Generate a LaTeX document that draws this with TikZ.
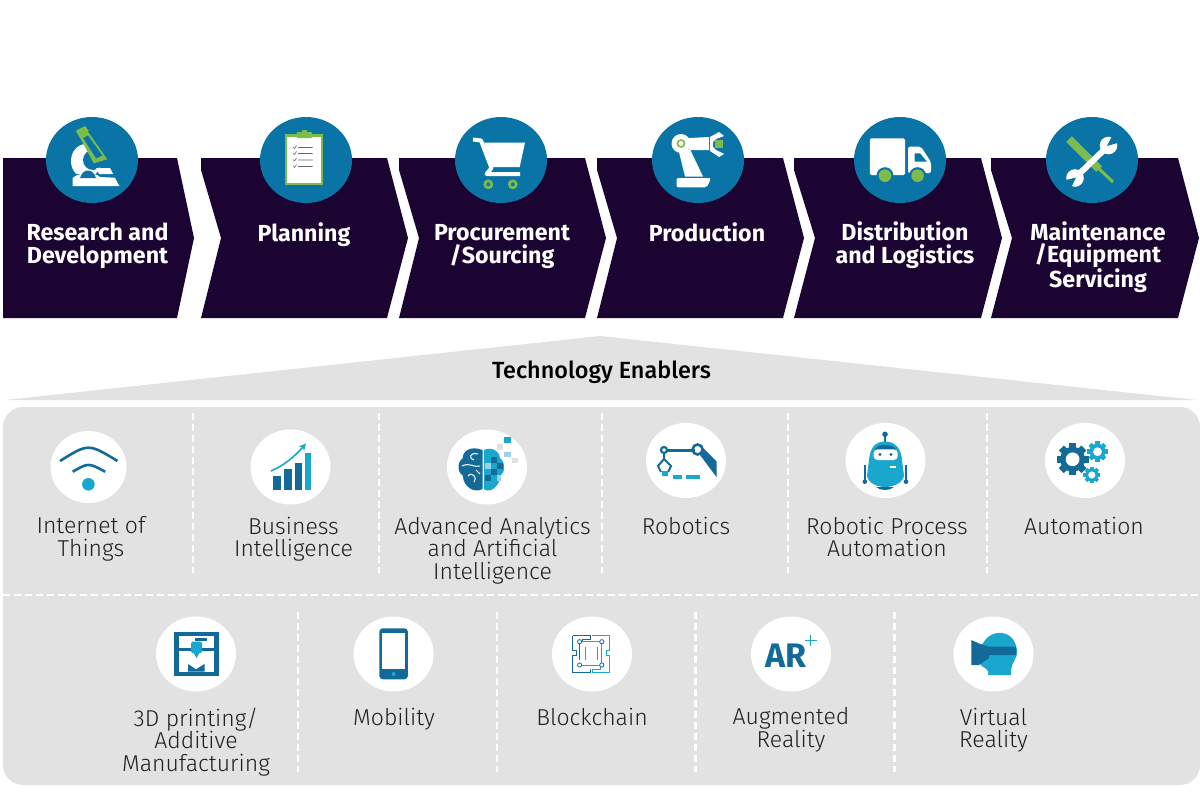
\documentclass[tikz,border=0pt]{standalone}
\usepackage{fontspec}
\setmainfont{Fira Sans}
\newfontfamily\lightfont{Fira Sans Light}
\newfontfamily\mediumfont{Fira Sans Medium}
\usepackage{tikz}
\usetikzlibrary{arrows.meta,positioning,calc,shapes.geometric}

\definecolor{stagefill}{HTML}{1C0432}
\definecolor{badgeblue}{HTML}{0A74A6}
\definecolor{leafgreen}{HTML}{7DBB4C}
\definecolor{panelgray}{HTML}{E2E2E2}
\definecolor{techdark}{HTML}{136A99}
\definecolor{techcyan}{HTML}{19A7CE}
\definecolor{techpale}{HTML}{9BD3E6}

\newcommand{\gearicon}[4]{%
  \foreach \a in {0,45,...,315}{%
    \fill[#4, rotate around={\a:(#1,#2)}] ($(#1,#2)+(-0.28*#3,-1.28*#3)$) rectangle ($(#1,#2)+(0.28*#3,0)$);
  }
  \fill[#4] (#1,#2) circle[radius=#3];
  \fill[white] (#1,#2) circle[radius=0.55*#3];
}

\begin{document}
\begin{tikzpicture}[x=1pt, y=-1pt,
    stagelabel/.style={text=white, align=center, anchor=north, inner sep=0pt, font=\fontsize{23.2}{22.8}\selectfont\bfseries},
    techlabel/.style={text=black!88, align=center, anchor=north, inner sep=0pt, font=\fontsize{23}{22.8}\selectfont\lightfont},
    badge/.style={ellipse, fill=badgeblue, minimum width=92pt, minimum height=86pt, inner sep=0pt},
    disc/.style={ellipse, fill=white, minimum width=80pt, minimum height=75pt, inner sep=0pt},
    sepline/.style={draw=white, line width=2.1pt, dash pattern=on 7pt off 4pt}]
    \useasboundingbox (0,0) rectangle (1200,800);

    % value chain
    \fill[stagefill] (3,158) -- (177,158) -- (194,238) -- (177,318) -- (3,318) -- cycle;
    \fill[stagefill] (201,158) -- (387,158) -- (408,238) -- (387,318) -- (201,318) -- (221,238) -- (201,170) -- cycle;
    \fill[stagefill] (399,158) -- (585,158) -- (606,238) -- (585,318) -- (399,318) -- (419,238) -- (399,170) -- cycle;
    \fill[stagefill] (597,158) -- (783,158) -- (804,238) -- (783,318) -- (597,318) -- (617,238) -- (597,170) -- cycle;
    \fill[stagefill] (794,158) -- (981,158) -- (1002,238) -- (981,318) -- (794,318) -- (815,238) -- (794,170) -- cycle;
    \fill[stagefill] (991,158) -- (1178,158) -- (1199,238) -- (1178,318) -- (991,318) -- (1012,238) -- (991,170) -- cycle;

    \node[badge] (researchbadge) at (92,160) {};
    \node[badge] (planningbadge) at (306,160) {};
    \node[badge] (sourcingbadge) at (501,160) {};
    \node[badge] (productionbadge) at (698,160) {};
    \node[badge] (logisticsbadge) at (900,160) {};
    \node[badge] (servicingbadge) at (1092,160) {};

    \node[stagelabel] (research) at (97.5,222.5) {Research and\\Development};
    \node[stagelabel] (planning) at (304,222) {Planning};
    \node[stagelabel] (sourcing) at (502,224.5) {Procurement\\/Sourcing};
    \node[stagelabel] (production) at (707,222) {Production};
    \node[stagelabel] (logistics) at (905,221.5) {Distribution\\and Logistics};
    \node[stagelabel] (servicing) at (1098,221) {Maintenance\\/Equipment\\Servicing};

    % microscope
    \fill[white] (86,161) ellipse[x radius=15, y radius=17];
    \fill[badgeblue] (93,160) ellipse[x radius=10, y radius=10];
    \fill[leafgreen] (75.8,130.7) -- (85,126) -- (88.8,130.7) -- (78.8,136) -- cycle;
    \fill[leafgreen] (78.5,135) -- (87.3,130.7) -- (107.2,159.3) -- (93.8,163.3) -- cycle;
    \fill[badgeblue] (83.2,138) -- (88,135.5) -- (102.3,155.5) -- (96.2,158.5) -- cycle;
    \fill[badgeblue] (76,174) rectangle (118,178);
    \fill[white] (72.7,186) -- (72.7,178) .. controls (78,172) and (95,172) .. (100,177) -- (114.8,177.7) -- (119.4,186) -- cycle;
    \fill[badgeblue] (80,178) .. controls (83,168) and (93,168) .. (96,178) -- cycle;
    \fill[white] (96,168) -- (110,168) -- (113,174) -- (99,174) -- cycle;

    % clipboard
    \fill[leafgreen] (285,133.5) rectangle (322.6,185);
    \fill[white] (287,136.5) rectangle (320.7,182.5);
    \fill[leafgreen, rounded corners=1pt] (296.6,132) rectangle (312,138);
    \fill[leafgreen] (302,130) rectangle (307,133);
    \draw[black!60, line width=0.6pt] (293,147) -- (294.5,148.5) -- (296.5,145.5) (298,147.5) -- (312.7,147.5);
    \draw[black!60, line width=0.6pt] (293,153) -- (294.5,154.5) -- (296.5,151.5) (298,153.5) -- (312.7,153.5);
    \draw[black!60, line width=0.6pt] (293,159.5) -- (294.5,161) -- (296.5,158) (298,160) -- (312.7,160);
    \draw[black!60, line width=0.6pt] (293,166) -- (294.5,167.5) -- (296.5,164.5) (298,166.5) -- (312.7,166.5);

    % cart
    \fill[white] (484,142.5) -- (525,142.5) -- (519.7,167) -- (492.5,167) -- cycle;
    \draw[white, line width=4pt, line join=round] (473,139.5) -- (481,140.5) -- (491.5,168) -- (486.5,174) -- (520,174);
    \draw[leafgreen, line width=2.6pt] (488.3,184.3) circle[radius=3.5];
    \draw[leafgreen, line width=2.6pt] (512.8,184.3) circle[radius=3.5];

    % robot arm
    \fill[white, rounded corners=2pt] (676.5,178) -- (711,178) -- (707,187.3) -- (676.5,187.3) -- cycle;
    \fill[white] (678.5,150) -- (690,149.3) -- (703,176.5) -- (685,176.5) -- cycle;
    \fill[white] (684,138.3) -- (709,137) -- (709,150) -- (690,150) -- cycle;
    \fill[white] (681,143.5) circle[radius=9.5];
    \draw[leafgreen, line width=1.6pt] (681,143.5) circle[radius=3.5];
    \fill[white] (710,137) -- (719,132) -- (724,136) -- (716,139) -- (713,142) -- (713,147) -- (716,150) -- (724,154) -- (719,157) -- (710,151) -- cycle;
    \fill[leafgreen] (714.8,140) rectangle (722.5,148.3);

    % truck
    \fill[white, rounded corners=1.5pt] (869.8,138.3) rectangle (905,175);
    \fill[white, rounded corners=2pt] (908,146.7) -- (921,146.7) -- (931,162) -- (931,173) -- (908,173) -- cycle;
    \fill[badgeblue] (914.6,153.3) -- (920,153.3) -- (927,161.7) -- (914.6,161.7) -- cycle;
    \fill[badgeblue] (885,175.7) circle[radius=8.5];
    \fill[badgeblue] (917.6,175.7) circle[radius=8.5];
    \fill[leafgreen] (885,175.7) circle[radius=6.3];
    \fill[leafgreen] (917.6,175.7) circle[radius=6.3];

    % screwdriver and wrench
    \draw[leafgreen, line width=8pt] (1069,139) -- (1099,169);
    \draw[leafgreen, line width=3pt] (1097,167) -- (1113,182);
    \draw[white, line width=6pt] (1076,177) -- (1108,146);
    \fill[white] (1108.5,145.5) circle[radius=8.8];
    \fill[white] (1075,178) circle[radius=8.8];
    \fill[badgeblue] (1107,146) -- (1113,134) -- (1121,142) -- cycle;
    \fill[badgeblue] (1076,177.5) -- (1070,190) -- (1062,181) -- cycle;

    % enablers heading
    \fill[panelgray] (5,400) -- (600,336) -- (1197,400) -- cycle;
    \node[inner sep=0pt, font=\fontsize{23.4}{23.4}\selectfont\mediumfont] (enablers) at (601.5,372) {Technology Enablers};

    % panel and separators
    \fill[panelgray, rounded corners=20pt] (3,407) rectangle (1200,785);
    \draw[sepline] (3,595) -- (1200,595);
    \draw[sepline] (193,413) -- (193,573);
    \draw[sepline] (379,413) -- (379,573);
    \draw[sepline] (602,413) -- (602,573);
    \draw[sepline] (788,413) -- (788,573);
    \draw[sepline] (987,413) -- (987,573);
    \draw[sepline] (298,612) -- (298,772);
    \draw[sepline] (497,612) -- (497,772);
    \draw[sepline] (695.5,612) -- (695.5,772);
    \draw[sepline] (894.5,612) -- (894.5,772);

    % first row
    \node[disc, minimum width=76pt, minimum height=72pt] (iotdisc) at (88.5,467) {};
    \node[disc] (bidisc) at (290.5,467) {};
    \node[disc] (aidisc) at (487,467) {};
    \node[disc] (robodisc) at (686,460.5) {};
    \node[disc] (rpadisc) at (885.5,460.5) {};
    \node[disc] (autodisc) at (1085,460.5) {};

    \node[techlabel] (iot) at (91,516.5) {Internet of\\Things};
    \node[techlabel] (bi) at (293.5,516.5) {Business\\Intelligence};
    \node[techlabel] (ai) at (492.5,516.5) {Advanced Analytics\\and Artificial\\Intelligence};
    \node[techlabel] (robo) at (686,516.5) {Robotics};
    \node[techlabel] (rpa) at (887,516.5) {Robotic Process\\Automation};
    \node[techlabel] (auto) at (1084,516.5) {Automation};

    % wifi
    \draw[techdark, line width=2.6pt] (60,461) .. controls (88.4,443.3) .. (117.5,461);
    \draw[techdark, line width=2.6pt] (72.7,471.7) .. controls (88.4,462.7) .. (105.2,471.7);
    \fill[techcyan] (88.4,484.3) circle[radius=6.3];

    % bars and arrow
    \fill[techdark] (272.9,476) rectangle (280.5,490);
    \fill[techdark] (284,469) rectangle (291.6,490);
    \fill[techdark] (295,463.3) rectangle (302.3,490);
    \fill[techcyan] (305,452.7) rectangle (311,490);
    \draw[techcyan, line width=1.6pt, -{Stealth[length=7pt,width=7pt]}] (271,471) .. controls (285,465) and (295,456) .. (306,443.5);

    % brain
    \fill[techdark] (482.5,450) .. controls (470,445) and (462,452) .. (463,458) .. controls (456,463) and (458,473) .. (463,476) .. controls (463,486) and (474,494) .. (482.5,489) -- cycle;
    \draw[white, line width=1pt] (478,454) .. controls (470,452) and (468,458) .. (474,460) (462,466) .. controls (470,462) and (474,468) .. (480,466) (468,476) .. controls (472,471) and (478,478) .. (474,482) (480,474) -- (476,470);
    \fill[techcyan] (484,450) .. controls (492,446) and (500,452) .. (500,458) .. controls (506,463) and (505,473) .. (500,476) .. controls (500,486) and (490,494) .. (484,489) -- cycle;
    \fill[techdark] (491,457) rectangle (497,463);
    \fill[techdark] (497,463) rectangle (503,469);
    \fill[techdark] (485,475) rectangle (491,481);
    \fill[techdark] (491,469) rectangle (497,475);
    \fill[techpale] (485,463) rectangle (491,469);
    \fill[techpale] (497,475) rectangle (501,481);
    \fill[techcyan] (504.4,437.3) rectangle (511,443.3);
    \fill[black!12] (497,444.3) rectangle (503.3,450);
    \fill[techpale] (504,451.7) rectangle (511,457.3);
    \fill[black!12] (512,458.3) rectangle (517.5,463.3);

    % robot line
    \draw[techdark, line width=3pt] (667,450) -- (695,450);
    \fill[techdark] (703,448) -- (716.7,461.7) -- (716.7,477.3) -- (700,455) -- cycle;
    \draw[techdark, line width=2.2pt] (664,450) circle[radius=3];
    \draw[techdark, line width=2.6pt] (697.6,449.5) circle[radius=5];
    \draw[techdark, line width=2pt] (664,453) -- (664,459) -- (658,466) -- (661,472) (664,459) -- (671,466) -- (668,472);
    \fill[techcyan] (662,470.7) rectangle (667.6,476);
    \fill[techcyan] (672.7,475) rectangle (682.3,479.3);
    \fill[techcyan] (686,475) rectangle (700.3,479.3);

    % software robot
    \fill[techdark] (885,434.3) circle[radius=2.8];
    \draw[techdark, line width=1.2pt] (885,434.3) -- (885,443);
    \fill[techdark] (876,487) .. controls (880,491) and (890,491) .. (894,487) -- cycle;
    \draw[techdark, line width=1.4pt] (864.8,465) -- (864.8,480) (906,465) -- (906,480);
    \fill[techdark] (864.8,481.7) circle[radius=2.3];
    \fill[techdark] (906,481.7) circle[radius=2.3];
    \fill[techcyan] (885,441.5) .. controls (875,441.5) and (870,448) .. (869,460) -- (867,476) .. controls (869,484) and (878,487) .. (885,487) .. controls (892,487) and (902,484) .. (904,476) -- (902,460) .. controls (901,448) and (895,441.5) .. (885,441.5) -- cycle;
    \fill[techdark] (875,450) .. controls (877,443) and (893,443) .. (896,450) -- cycle;
    \fill[white, rounded corners=4pt] (873.6,449.3) rectangle (897.7,460);
    \fill[techdark] (880,454.5) circle[radius=1.6];
    \fill[techdark] (891,454.5) circle[radius=1.6];
    \fill[white] (890,466) rectangle (896,467.5);

    % gears
    \gearicon{1072.6}{459.3}{12.5}{techdark}
    \gearicon{1097.5}{451.7}{8}{techcyan}
    \gearicon{1091.8}{475}{6.5}{techcyan}

    % second row
    \node[disc] (printdisc) at (196,654) {};
    \node[disc] (mobiledisc) at (393.6,654) {};
    \node[disc] (chaindisc) at (592,654) {};
    \node[disc] (ardisc) at (791,654) {};
    \node[disc] (vrdisc) at (993.5,654) {};

    \node[techlabel] (print) at (196,707.5) {3D printing/\\Additive\\Manufacturing};
    \node[techlabel] (mobile) at (394,707.5) {Mobility};
    \node[techlabel] (chain) at (592,707.5) {Blockchain};
    \node[techlabel] (ar) at (791,707.5) {Augmented\\Reality};
    \node[techlabel] (vr) at (993.5,707.5) {Virtual\\Reality};

    % printer
    \fill[techdark] (174,631.7) rectangle (219,676);
    \fill[white] (178.6,636) rectangle (214.3,648.3);
    \fill[white] (178.6,650.7) rectangle (214.3,671.7);
    \fill[techdark] (188,671.7) -- (188,664) -- (196,669.3) -- (204.5,664) -- (204.5,671.7) -- cycle;
    \fill[techdark] (195,638) rectangle (207,641);
    \fill[techcyan, rounded corners=1.5pt] (191,641.5) rectangle (202,653);
    \fill[techcyan] (193,652) -- (200,652) -- (196.5,658) -- cycle;

    % phone
    \fill[techdark, rounded corners=3.5pt] (379.3,628.3) rectangle (407.9,679.3);
    \fill[white] (382,632.7) rectangle (405.4,669.3);
    \fill[techcyan] (393.6,674) circle[radius=2];

    % circuit
    \draw[techdark, line width=0.9pt] (572.5,635.5) -- (590,635.5) -- (590,639) -- (582,639) -- (582,641.7) (579.6,644) -- (579.6,660) (572.5,635.5) -- (572.5,650) -- (576,650) -- (576,655) -- (572.5,655) -- (572.5,672.5) -- (590,672.5) -- (590,669);
    \draw[techcyan, line width=0.9pt] (592,635.5) -- (609.5,635.5) -- (609.5,650) -- (606,650) -- (606,655) -- (609.5,655) -- (609.5,672.5) -- (592,672.5) -- (592,669) -- (600,669) -- (600,667) (582,641.7) -- (599.5,641.7) (601.8,644) -- (601.8,662.5) (582,665) -- (599.5,665) (585,647) -- (585,660) (597,647) -- (597,660);
    \draw[techdark, line width=0.8pt, fill=white] (579.6,641.7) circle[radius=2.1];
    \draw[techdark, line width=0.8pt, fill=white] (601.8,641.7) circle[radius=2.1];
    \draw[techdark, line width=0.8pt, fill=white] (579.6,665) circle[radius=2.1];
    \draw[techdark, line width=0.8pt, fill=white] (601.8,665) circle[radius=2.1];

    % augmented
    \node[text=techdark, inner sep=0pt, font=\fontsize{34}{34}\selectfont\bfseries] (arsign) at (786,656) {AR};
    \draw[techcyan, line width=1pt] (805,640) -- (816.5,640) (810.7,634.5) -- (810.7,646);

    % headset
    \fill[techcyan] (982,645) .. controls (990,628) and (1014,628) .. (1017,650) .. controls (1018,660) and (1010,662) .. (1011,675) -- (988,675) .. controls (990,668) and (982,668) .. (980,664) -- cycle;
    \fill[techdark] (971.4,640) -- (979,643.5) -- (989,646.7) -- (989,658) -- (979,665) -- (971.4,665) -- cycle;
    \fill[techdark, rounded corners=1pt] (987.6,646.7) rectangle (1016,655);
\end{tikzpicture}
\end{document}
